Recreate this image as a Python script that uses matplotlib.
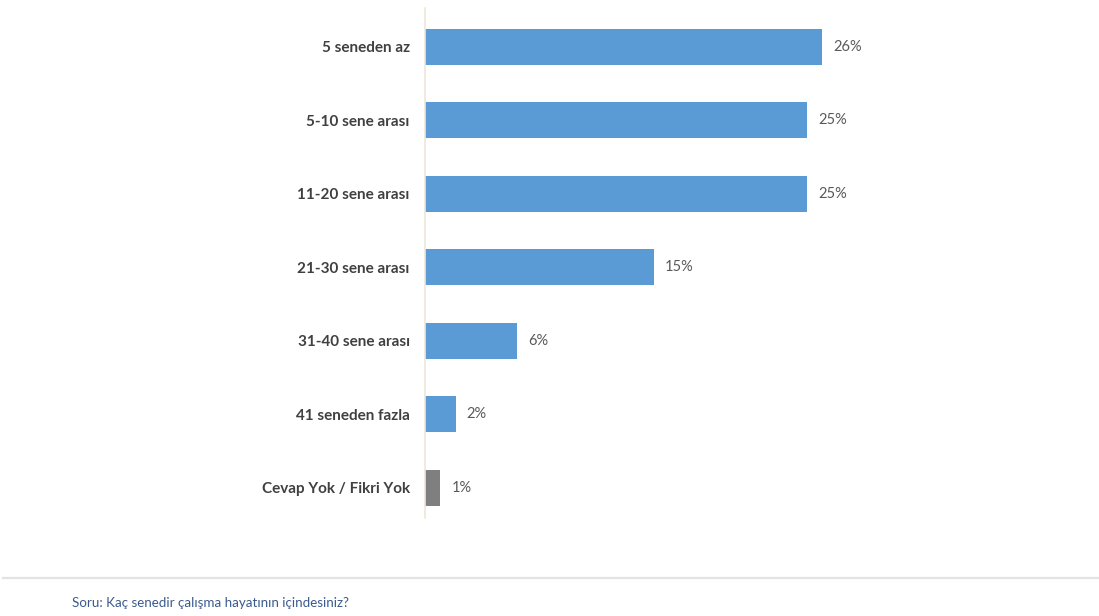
import matplotlib
matplotlib.use("Agg")
import matplotlib.pyplot as plt
from matplotlib.lines import Line2D

# Survey: years in working life
categories = [
    "5 seneden az",
    "5-10 sene arası",
    "11-20 sene arası",
    "21-30 sene arası",
    "31-40 sene arası",
    "41 seneden fazla",
    "Cevap Yok / Fikri Yok",
]
values = [26, 25, 25, 15, 6, 2, 1]
bar_colors = ["#5B9BD5"] * 6 + ["#7F7F7F"]
question = "Soru: Kaç senedir çalışma hayatının içindesiniz?"

plt.rcParams["font.family"] = ["Lato", "DejaVu Sans"]

W, H = 1099, 616
fig = plt.figure(figsize=(W / 100, H / 100), dpi=100)
fig.patch.set_facecolor("white")

# axes placed in pixel terms: left edge at the category axis line
ax_left, ax_top, ax_bottom, ax_right = 425, 8, 518, 1036
ax = fig.add_axes([ax_left / W, 1 - ax_bottom / H,
                   (ax_right - ax_left) / W, (ax_bottom - ax_top) / H])

y = list(range(len(categories)))
ax.barh(y, values, height=0.49, color=bar_colors, edgecolor="none")

ax.set_xlim(0, 40)
ax.set_ylim(6.41, -0.53)

for yi, v in zip(y, values):
    ax.annotate(f"{v}%", (v, yi), xytext=(8, 0), textcoords="offset points",
                va="center", ha="left", fontsize=10.5, color="#595959")

ax.set_yticks(y)
ax.set_yticklabels(categories, fontsize=11, color="#404040", fontweight="bold")
ax.tick_params(axis="y", length=0, pad=11)
ax.set_xticks([])
for side in ("top", "right", "bottom"):
    ax.spines[side].set_visible(False)
ax.spines["left"].set_color("#EDE6DC")
ax.spines["left"].set_linewidth(1.2)

# separator line and footer question
fig.add_artist(Line2D([3 / W, 1.0], [1 - 578 / H, 1 - 578 / H],
                      color="#E3E3E3", lw=1.6, transform=fig.transFigure))
fig.text(72 / W, 1 - 603 / H, question, fontsize=9.6, color="#3A5A8C",
         ha="left", va="center")

fig.savefig("out.png", dpi=100, facecolor="white")
